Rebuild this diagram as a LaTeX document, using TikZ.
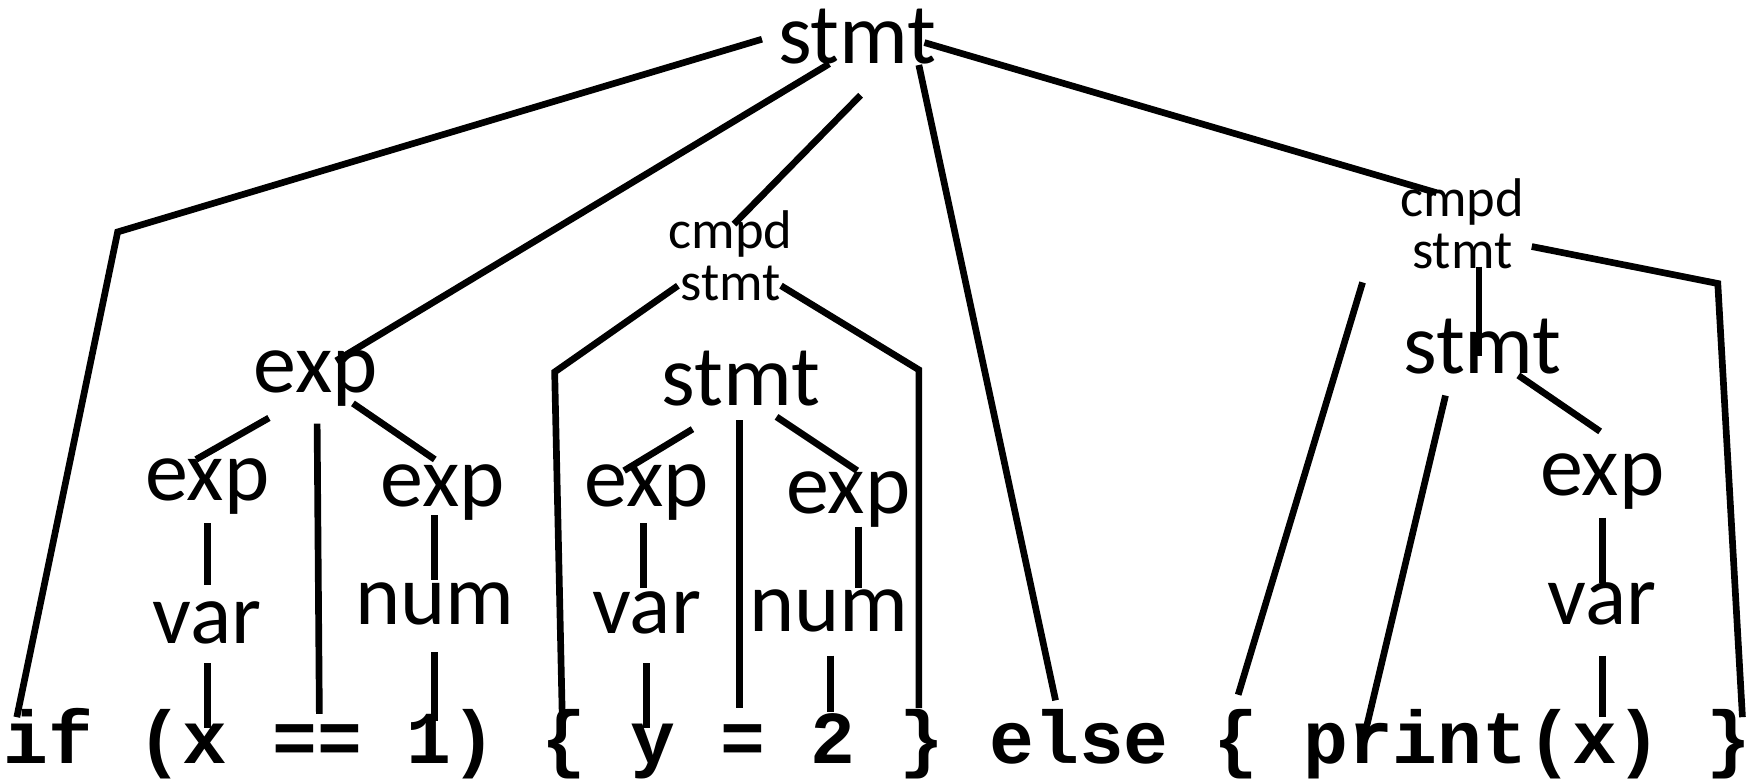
\documentclass[tikz,border=0pt]{standalone}
\usepackage{fontspec}
\setmainfont{Carlito}
\newfontfamily\codefont{Liberation Mono}

\tikzset{
  lbl/.style={font=\fontsize{24.5}{26}\selectfont, inner sep=0pt, anchor=base},
  cmpd/.style={font=\fontsize{15.5}{14.7}\selectfont, inner sep=0pt, align=center},
  tok/.style={font=\codefont\bfseries\fontsize{21.25}{22}\selectfont, inner sep=0pt, anchor=base},
  branch/.style={line width=1.9pt}
}

\begin{document}
\begin{tikzpicture}[x=0.11205mm, y=-0.11205mm]
\useasboundingbox (0,0) rectangle (1568,695);

% source line, one node per token
\node[tok] (if) at (43,681) {if};
\node[tok] (lp1) at (143,681) {(};
\node[tok] (x1) at (183,681) {x};
\node[tok] (eq) at (283,681) {==};
\node[tok] (one) at (383,681) {1};
\node[tok] (rp1) at (423,681) {)};
\node[tok] (lb1) at (503,681) {\{};
\node[tok] (y) at (583,681) {y};
\node[tok] (assign) at (663,681) {=};
\node[tok] (two) at (743,681) {2};
\node[tok] (rb1) at (823,681) {\}};
\node[tok] (else) at (963,681) {else};
\node[tok] (lb2) at (1103,681) {\{};
\node[tok] (print) at (1263,681) {print};
\node[tok] (lp2) at (1383,681) {(};
\node[tok] (x2) at (1423,681) {x};
\node[tok] (rp2) at (1463,681) {)};
\node[tok] (rb2) at (1543,681) {\}};

% tree labels
\node[lbl] (top) at (765,57) {stmt};
\node[lbl] (exp1) at (282,350) {exp};
\node[lbl] (exp1a) at (185,447) {exp};
\node[lbl] (exp1b) at (395,452) {exp};
\node[lbl] (var1) at (185,574) {var};
\node[lbl] (num1) at (388,557) {num};
\node[cmpd] (cmpd1) at (652,228) {cmpd\\stmt};
\node[lbl] (stmt2) at (661,362) {stmt};
\node[lbl] (exp2a) at (577,452) {exp};
\node[lbl] (exp2b) at (757,458) {exp};
\node[lbl] (var2) at (577,565) {var};
\node[lbl] (num2) at (740,564) {num};
\node[cmpd] (cmpd2) at (1305,200) {cmpd\\stmt};
\node[lbl] (stmt3) at (1323,333) {stmt};
\node[lbl] (exp3) at (1430,442) {exp};
\node[lbl] (var3) at (1430,557) {var};

% bends
\coordinate (ifknee) at (105,207);
\coordinate (lbknee) at (495,332);
\coordinate (rbknee) at (820,330);
\coordinate (endknee) at (1533,253);

% root
\draw[branch] ([shift={(-85,-22)}]top.base) -- (ifknee) -- ([shift={(-28,-41)}]if.base);
\draw[branch] ([shift={(-25,0)}]top.base) -- ([shift={(18,-28)}]exp1.base);
\draw[branch] ([shift={(3,28)}]top.base) -- ([shift={(3,-28)}]cmpd1.center);
\draw[branch] ([shift={(55,1)}]top.base) -- ([shift={(-21,-56)}]else.base);
\draw[branch] ([shift={(60,-19)}]top.base) -- ([shift={(-23,-28)}]cmpd2.center);

% condition
\draw[branch] ([shift={(-42,23)}]exp1.base) -- ([shift={(-10,-37)}]exp1a.base);
\draw[branch] ([shift={(1,28)}]exp1.base) -- ([shift={(2,-44)}]eq.base);
\draw[branch] ([shift={(33,10)}]exp1.base) -- ([shift={(-7,-42)}]exp1b.base);
\draw[branch] ([shift={(0,20)}]exp1a.base) -- ([shift={(0,-52)}]var1.base);
\draw[branch] ([shift={(0,18)}]var1.base) -- ([shift={(2,-31)}]x1.base);
\draw[branch] ([shift={(-7,8)}]exp1b.base) -- ([shift={(0,-39)}]num1.base);
\draw[branch] ([shift={(0,25)}]num1.base) -- ([shift={(5,-38)}]one.base);

% then branch
\draw[branch] ([shift={(-47,27)}]cmpd1.center) -- (lbknee) -- ([shift={(-1,-31)}]lb1.base);
\draw[branch] ([shift={(45,27)}]cmpd1.center) -- (rbknee) -- ([shift={(-3,-49)}]rb1.base);
\draw[branch] ([shift={(-43,21)}]stmt2.base) -- ([shift={(-20,-32)}]exp2a.base);
\draw[branch] ([shift={(-1,13)}]stmt2.base) -- ([shift={(-3,-49)}]assign.base);
\draw[branch] ([shift={(32,10)}]stmt2.base) -- ([shift={(8,-38)}]exp2b.base);
\draw[branch] ([shift={(-3,15)}]exp2a.base) -- ([shift={(-3,-40)}]var2.base);
\draw[branch] ([shift={(0,27)}]var2.base) -- ([shift={(-6,-31)}]y.base);
\draw[branch] ([shift={(9,12)}]exp2b.base) -- ([shift={(26,-39)}]num2.base);
\draw[branch] ([shift={(1,21)}]num2.base) -- ([shift={(-2,-46)}]two.base);

% else branch
\draw[branch] ([shift={(-89,52)}]cmpd2.center) -- ([shift={(2,-61)}]lb2.base);
\draw[branch] ([shift={(62,20)}]cmpd2.center) -- (endknee) -- ([shift={(12,-41)}]rb2.base);
\draw[branch] ([shift={(15,38)}]cmpd2.center) -- ([shift={(-3,-15)}]stmt3.base);
\draw[branch] ([shift={(-33,20)}]stmt3.base) -- ([shift={(-45,-26)}]print.base);
\draw[branch] ([shift={(32,2)}]stmt3.base) -- ([shift={(-2,-57)}]exp3.base);
\draw[branch] ([shift={(0,20)}]exp3.base) -- ([shift={(0,-37)}]var3.base);
\draw[branch] ([shift={(0,28)}]var3.base) -- ([shift={(7,-41)}]x2.base);
\end{tikzpicture}
\end{document}
